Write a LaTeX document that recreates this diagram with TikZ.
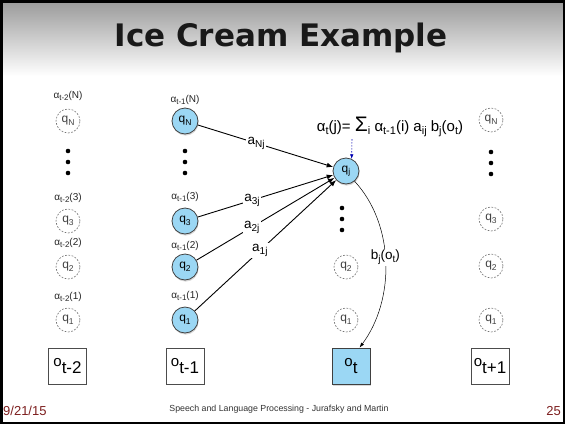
\documentclass[tikz,border=0pt]{standalone}
\usepackage{fontspec}
\setmainfont{Liberation Sans}
\newfontfamily\titlefont{DejaVu Sans}
\usetikzlibrary{arrows.meta,shadows}
\definecolor{stateblue}{RGB}{155,215,244}
\definecolor{footred}{RGB}{125,30,30}
% lowered text: shift, size, text
\newcommand\lowr[3]{\raisebox{-#1}{\fontsize{#2}{#2}\selectfont #3}}
\newcommand\qlab[1]{q\lowr{2.2pt}{8.5}{#1}}
\newcommand\alab[2]{α\lowr{2pt}{8}{#1}(#2)}
\newcommand\olab[1]{{\fontsize{15}{15}\selectfont o}\lowr{7pt}{17}{#1}}
\begin{document}
\begin{tikzpicture}[x=1pt,y=-1pt,
  live/.style={circle,draw=black!75,line width=0.8pt,fill=stateblue,minimum size=26pt,inner sep=0pt,
    font=\fontsize{12}{12}\selectfont,
    drop shadow={opacity=0.3,shadow xshift=0.6pt,shadow yshift=-1.6pt}},
  ghost/.style={circle,draw=black!55,line width=0.6pt,dash pattern=on 1.8pt off 1.5pt,minimum size=24pt,
    inner sep=0pt,font=\fontsize{12}{12}\selectfont,text=black!75},
  dotmark/.style={circle,fill=black,inner sep=0pt,minimum size=4.6pt},
  obs/.style={draw=black!70,line width=0.6pt,fill=white,minimum width=38pt,minimum height=36pt,inner sep=0pt},
  liveobs/.style={obs,fill=stateblue,draw=black!75,line width=0.8pt,
    drop shadow={opacity=0.3,shadow xshift=0.6pt,shadow yshift=-1.6pt}},
  fwdlab/.style={inner sep=0pt,font=\fontsize{10}{10}\selectfont,text=black!85},
  elab/.style={fill=white,inner sep=1.5pt,font=\fontsize{13.5}{13.5}\selectfont},
  trans/.style={line width=0.9pt,-{Latex[length=6.5pt,width=5pt]}},
]
\useasboundingbox (0,0) rectangle (565,424);
% slide background and title band
\fill[white] (0,0) rectangle (565,424);
\shade[top color=black!40,bottom color=white] (0,0) rectangle (565,76);
\node[text=black!90] (title) at (281,38) {\titlefont\bfseries\fontsize{31}{31}\selectfont Ice Cream Example};

% column t-2
\node[fwdlab] (l1N) at (68,96) {\alab{t-2}{N}};
\node[ghost] (g1N) at (68,121) {\qlab{N}};
\node[dotmark] (d1a) at (68,151) {};
\node[dotmark] (d1b) at (68,162) {};
\node[dotmark] (d1c) at (68,173) {};
\node[fwdlab] (l13) at (68,198) {\alab{t-2}{3}};
\node[ghost] (g13) at (68,221) {\qlab{3}};
\node[fwdlab] (l12) at (68,243) {\alab{t-2}{2}};
\node[ghost] (g12) at (68,267) {\qlab{2}};
\node[fwdlab] (l11) at (68,297) {\alab{t-2}{1}};
\node[ghost] (g11) at (68,320) {\qlab{1}};
\node[obs] (o1) at (67.5,366) {\olab{t-2}};

% column t-1
\node[fwdlab] (l2N) at (185,100) {\alab{t-1}{N}};
\node[live] (bN) at (185,121) {\qlab{N}};
\node[dotmark] (d2a) at (185,151) {};
\node[dotmark] (d2b) at (185,162) {};
\node[dotmark] (d2c) at (185,173) {};
\node[fwdlab] (l23) at (185,197) {\alab{t-1}{3}};
\node[live] (b3) at (185,221) {\qlab{3}};
\node[fwdlab] (l22) at (185,246) {\alab{t-1}{2}};
\node[live] (b2) at (185,267) {\qlab{2}};
\node[fwdlab] (l21) at (185,296) {\alab{t-1}{1}};
\node[live] (b1) at (185,320) {\qlab{1}};
\node[obs] (o2) at (185,366) {\olab{t-1}};

% column t
\node[live] (qj) at (346,171) {\qlab{j}};
\node[dotmark] (d3a) at (342,208) {};
\node[dotmark] (d3b) at (342,219) {};
\node[dotmark] (d3c) at (342,230) {};
\node[ghost] (g32) at (346,267) {\qlab{2}};
\node[ghost] (g31) at (346,320) {\qlab{1}};
\node[liveobs,font=\fontsize{15}{15}\selectfont] (ot) at (351,366) {\olab{t}};

% column t+1
\node[ghost] (g4N) at (491,120) {\qlab{N}};
\node[dotmark] (d4a) at (491,152) {};
\node[dotmark] (d4b) at (491,163) {};
\node[dotmark] (d4c) at (491,174) {};
\node[ghost] (g43) at (491,219) {\qlab{3}};
\node[ghost] (g42) at (491,266) {\qlab{2}};
\node[ghost] (g41) at (491,320) {\qlab{1}};
\node[obs] (o4) at (490,366) {\olab{t+1}};

% recursion formula
\node[inner sep=0pt,font=\fontsize{15}{15}\selectfont] (eq) at (390,127)
  {α\lowr{3.5pt}{11}{t}(j)= {\fontsize{21}{21}\selectfont Σ}\lowr{3.5pt}{11}{i} α\lowr{3.5pt}{11}{t-1}(i) a\lowr{3.5pt}{11}{ij} b\lowr{3.5pt}{11}{j}(o\lowr{3.5pt}{11}{t})};
\coordinate (eqfoot) at (352,139);
\draw[blue!70!black,line width=0.6pt,dash pattern=on 1.5pt off 1.5pt,-{Latex[length=4.5pt,width=3.5pt]}] (eqfoot) -- (qj.65);

% transitions into q_j
\draw[trans] (bN) -- node[elab,pos=0.43] {a\lowr{3pt}{10}{Nj}} (qj);
\draw[trans] (b3) -- node[elab,pos=0.40] {a\lowr{3pt}{10}{3j}} (qj);
\draw[trans] (b2) -- node[elab,pos=0.40] {a\lowr{3pt}{10}{2j}} (qj);
\draw[trans] (b1) -- node[elab,pos=0.46] {a\lowr{3pt}{10}{1j}} (qj);

% emission
\draw[line width=0.5pt,-{Latex[length=5pt,width=3.5pt]}] (qj.-50) .. controls (395,225) and (395,300) ..
  node[elab,pos=0.47] {b\lowr{3pt}{10}{j}(o\lowr{3pt}{10}{t})} (ot.65);

% footer
\node[anchor=west,inner sep=0pt,text=footred,font=\fontsize{13}{13}\selectfont] (date) at (3,411) {9/21/15};
\node[inner sep=0pt,text=black!80,font=\fontsize{8.8}{8.8}\selectfont] (credit) at (279,409) {Speech and Language Processing - Jurafsky and Martin};
\node[anchor=east,inner sep=0pt,text=footred,font=\fontsize{13}{13}\selectfont] (pageno) at (561,411) {25};

% slide frame
\draw[black,line width=2.5pt] (1.25,1.25) rectangle (563.75,422.75);
\end{tikzpicture}
\end{document}
